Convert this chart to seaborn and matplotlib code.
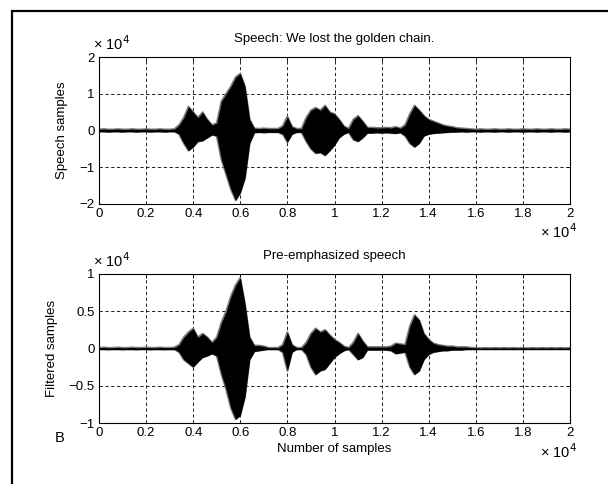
import numpy as np
import matplotlib
matplotlib.use("Agg")
import matplotlib.pyplot as plt
import seaborn as sns
import pandas as pd
from matplotlib.patches import Rectangle

# ---------------- data (units of 1e4) ----------------
sample_step = 200
n_points = 101  # samples 0 .. 20000

speech_upper = [0.03, 0.04, 0.03, 0.03, 0.04, 0.03, 0.03, 0.04, 0.03, 0.03,
                0.04, 0.03, 0.03, 0.04, 0.03, 0.03, 0.04, 0.15, 0.35, 0.65,
                0.50, 0.35, 0.50, 0.30, 0.15, 0.20, 0.80, 1.00, 1.20, 1.45,
                1.55, 1.20, 0.30, 0.06, 0.05, 0.06, 0.05, 0.05, 0.05, 0.12,
                0.38, 0.10, 0.05, 0.05, 0.35, 0.55, 0.62, 0.55, 0.68, 0.50,
                0.45, 0.30, 0.12, 0.05, 0.30, 0.40, 0.25, 0.08, 0.08, 0.07,
                0.07, 0.08, 0.07, 0.10, 0.06, 0.15, 0.45, 0.68, 0.55, 0.40,
                0.30, 0.25, 0.20, 0.15, 0.12, 0.10, 0.07, 0.06, 0.05, 0.04,
                0.03, 0.04, 0.03, 0.03, 0.04, 0.03, 0.03, 0.04, 0.03, 0.03,
                0.04, 0.03, 0.03, 0.04, 0.03, 0.03, 0.04, 0.03, 0.03, 0.04,
                0.03]
speech_lower = [-0.03, -0.03, -0.04, -0.03, -0.03, -0.04, -0.03, -0.03, -0.04, -0.03,
                -0.03, -0.04, -0.03, -0.03, -0.04, -0.03, -0.03, -0.10, -0.35, -0.55,
                -0.45, -0.30, -0.28, -0.20, -0.12, -0.15, -0.80, -1.20, -1.60, -1.90,
                -1.70, -1.30, -0.35, -0.06, -0.05, -0.06, -0.05, -0.05, -0.05, -0.10,
                -0.32, -0.10, -0.05, -0.05, -0.30, -0.50, -0.62, -0.60, -0.68, -0.55,
                -0.40, -0.20, -0.10, -0.05, -0.25, -0.30, -0.20, -0.07, -0.07, -0.06,
                -0.07, -0.06, -0.07, -0.08, -0.06, -0.15, -0.35, -0.45, -0.35, -0.15,
                -0.10, -0.08, -0.07, -0.06, -0.05, -0.04, -0.04, -0.03, -0.04, -0.03,
                -0.03, -0.04, -0.03, -0.03, -0.04, -0.03, -0.03, -0.04, -0.03, -0.03,
                -0.04, -0.03, -0.03, -0.04, -0.03, -0.03, -0.04, -0.03, -0.03, -0.04,
                -0.03]
filtered_upper = [0.01, 0.015, 0.01, 0.01, 0.015, 0.01, 0.01, 0.015, 0.01, 0.01,
                  0.015, 0.01, 0.01, 0.015, 0.01, 0.01, 0.015, 0.05, 0.15, 0.22,
                  0.27, 0.15, 0.20, 0.15, 0.08, 0.15, 0.35, 0.50, 0.70, 0.85,
                  0.95, 0.60, 0.15, 0.04, 0.04, 0.03, 0.01, 0.01, 0.01, 0.05,
                  0.22, 0.05, 0.01, 0.01, 0.08, 0.20, 0.27, 0.22, 0.25, 0.18,
                  0.12, 0.08, 0.03, 0.01, 0.08, 0.20, 0.10, 0.02, 0.02, 0.02,
                  0.02, 0.02, 0.03, 0.07, 0.06, 0.05, 0.30, 0.45, 0.38, 0.20,
                  0.12, 0.07, 0.05, 0.04, 0.03, 0.03, 0.02, 0.02, 0.02, 0.01,
                  0.01, 0.005, 0.01, 0.005, 0.01, 0.005, 0.01, 0.005, 0.01, 0.005,
                  0.01, 0.005, 0.01, 0.005, 0.01, 0.005, 0.01, 0.005, 0.01, 0.005,
                  0.01]
filtered_lower = [-0.01, -0.01, -0.015, -0.01, -0.01, -0.015, -0.01, -0.01, -0.015, -0.01,
                  -0.01, -0.015, -0.01, -0.01, -0.015, -0.01, -0.01, -0.05, -0.15, -0.20,
                  -0.25, -0.18, -0.12, -0.10, -0.07, -0.10, -0.35, -0.55, -0.80, -0.95,
                  -0.90, -0.65, -0.15, -0.04, -0.03, -0.02, -0.01, -0.01, -0.01, -0.05,
                  -0.30, -0.05, -0.01, -0.01, -0.08, -0.25, -0.35, -0.30, -0.28, -0.20,
                  -0.12, -0.07, -0.03, -0.01, -0.08, -0.15, -0.12, -0.02, -0.02, -0.02,
                  -0.02, -0.02, -0.03, -0.07, -0.06, -0.05, -0.25, -0.35, -0.30, -0.15,
                  -0.08, -0.05, -0.04, -0.03, -0.03, -0.02, -0.02, -0.02, -0.01, -0.01,
                  -0.01, -0.005, -0.01, -0.005, -0.01, -0.005, -0.01, -0.005, -0.01, -0.005,
                  -0.01, -0.005, -0.01, -0.005, -0.01, -0.005, -0.01, -0.005, -0.01, -0.005,
                  -0.01]

x_ticks = [0, 2000, 4000, 6000, 8000, 10000, 12000, 14000, 16000, 18000, 20000]
x_tick_labels = ["0", "0.2", "0.4", "0.6", "0.8", "1", "1.2", "1.4", "1.6", "1.8", "2"]
y1_ticks = [-2, -1, 0, 1, 2]
y1_tick_labels = ["\u22122", "\u22121", "0", "1", "2"]
y2_ticks = [-1, -0.5, 0, 0.5, 1]
y2_tick_labels = ["\u22121", "\u22120.5", "0", "0.5", "1"]

titles = ["Speech: We lost the golden chain.", "Pre-emphasized speech"]
ylabels = ["Speech samples", "Filtered samples"]
xlabel = "Number of samples"

# ---------------- styling ----------------
sns.set_theme(style="white")
plt.rcParams["font.family"] = ["Liberation Sans", "DejaVu Sans"]
plt.rcParams["xtick.direction"] = "in"
plt.rcParams["ytick.direction"] = "in"
FS = 9.5

samples = np.arange(n_points) * sample_step
df1 = pd.DataFrame({"n": samples, "upper": speech_upper, "lower": speech_lower})
df2 = pd.DataFrame({"n": samples, "upper": filtered_upper, "lower": filtered_lower})

W, H = 608, 484
fig = plt.figure(figsize=(W / 100, H / 100), dpi=100)
fig.patch.set_facecolor("white")

def px_axes(left, right, top, bottom):
    return fig.add_axes([left / W, 1 - bottom / H, (right - left) / W, (bottom - top) / H])

ax1 = px_axes(99, 570, 57, 204)
ax2 = px_axes(99, 570, 274, 423)

def draw(ax, df, yticks, ylabels_t, ylim, title, ylabel):
    ax.fill_between(df["n"], df["lower"], df["upper"], color="black", lw=0, zorder=3)
    sns.lineplot(data=df, x="n", y="upper", ax=ax, color="#777777", lw=1.3, zorder=2)
    sns.lineplot(data=df, x="n", y="lower", ax=ax, color="#777777", lw=1.3, zorder=2)
    ax.axhline(0, color="black", lw=1.0, zorder=4)
    ax.set_xlim(0, 20000)
    ax.set_ylim(*ylim)
    ax.set_xticks(x_ticks)
    ax.set_xticklabels(x_tick_labels)
    ax.set_yticks(yticks)
    ax.set_yticklabels(ylabels_t)
    ax.tick_params(axis="both", which="both", labelsize=FS, length=3, width=0.6,
                   color="black", labelcolor="black", top=True, right=True,
                   direction="in", pad=3)
    ax.grid(True, color="black", linestyle=(0, (4, 3)), lw=0.6)
    for s in ax.spines.values():
        s.set_color("black")
        s.set_linewidth(0.8)
    ax.set_title(title, fontsize=FS, pad=11, color="black")
    ax.set_ylabel(ylabel, fontsize=FS, color="black", labelpad=8)
    ax.set_xlabel("")
    ax.text(-0.012, 1.03, "\u00d7 10$^{4}$", transform=ax.transAxes, fontsize=10.5,
            ha="left", va="bottom", color="black")

draw(ax1, df1, y1_ticks, y1_tick_labels, (-2, 2), titles[0], ylabels[0])
draw(ax2, df2, y2_ticks, y2_tick_labels, (-1, 1), titles[1], ylabels[1])

ax1.text(1.015, -0.19, "\u00d7 10$^{4}$", transform=ax1.transAxes, fontsize=10.5,
         ha="right", va="center", color="black")
ax2.text(1.015, -0.195, "\u00d7 10$^{4}$", transform=ax2.transAxes, fontsize=10.5,
         ha="right", va="center", color="black")
ax2.set_xlabel(xlabel, fontsize=FS, color="black", labelpad=3)
fig.text(55 / W, 1 - 438 / H, "B", fontsize=10.5, ha="left", va="center", color="black")

# outer frame (clipped on the right and bottom like the reference)
fig.patches.append(Rectangle((12 / W, -0.05), 1.2, (1 - 11 / H) + 0.05,
                             transform=fig.transFigure, fill=False,
                             edgecolor="black", lw=1.6))

fig.savefig("out.png", dpi=100)
